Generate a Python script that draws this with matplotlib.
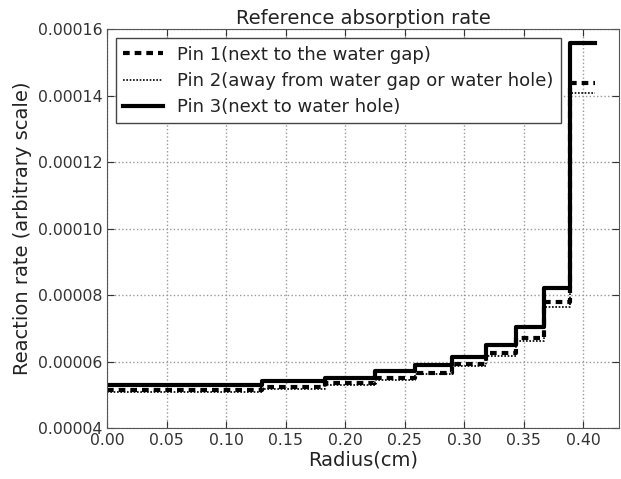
import matplotlib
matplotlib.use('Agg')
import matplotlib.pyplot as plt
from matplotlib.ticker import FormatStrFormatter, MultipleLocator

# ring edges (cm) and reaction rate per ring
radius_edges = [0.0, 0.13, 0.183, 0.225, 0.259, 0.29, 0.318, 0.343, 0.367, 0.389, 0.41]
pin1 = [5.13e-5, 5.23e-5, 5.35e-5, 5.50e-5, 5.67e-5, 5.93e-5, 6.25e-5, 6.70e-5, 7.80e-5, 1.44e-4]
pin2 = [5.08e-5, 5.18e-5, 5.30e-5, 5.45e-5, 5.62e-5, 5.87e-5, 6.18e-5, 6.62e-5, 7.65e-5, 1.41e-4]
pin3 = [5.28e-5, 5.40e-5, 5.52e-5, 5.72e-5, 5.89e-5, 6.15e-5, 6.50e-5, 7.05e-5, 8.23e-5, 1.56e-4]

labels = ['Pin 1(next to the water gap)',
          'Pin 2(away from water gap or water hole)',
          'Pin 3(next to water hole)']

fig = plt.figure(figsize=(6.21, 4.79), dpi=100)
ax = fig.add_axes([0.1723, 0.1065, 0.8247, 0.832])

ax.grid(True, color='0.6', linestyle=':', linewidth=1)
ax.set_axisbelow(True)

ax.plot(radius_edges, pin1 + pin1[-1:], drawstyle='steps-post', color='black',
        linestyle=(0, (1.6, 1.2)), linewidth=3, label=labels[0])
ax.plot(radius_edges, pin2 + pin2[-1:], drawstyle='steps-post', color='black',
        linestyle=(0, (1, 1)), linewidth=1.2, label=labels[1])
ax.plot(radius_edges, pin3 + pin3[-1:], drawstyle='steps-post', color='black',
        linestyle='-', linewidth=3, label=labels[2])

ax.set_xlim(0, 0.43)
ax.set_ylim(0.00004, 0.00016)
ax.xaxis.set_major_locator(MultipleLocator(0.05))
ax.yaxis.set_major_locator(MultipleLocator(0.00002))
ax.xaxis.set_major_formatter(FormatStrFormatter('%.2f'))
ax.yaxis.set_major_formatter(FormatStrFormatter('%.5f'))
ax.tick_params(direction='in', top=True, right=True, labelsize=11.3,
               colors='#333333', length=5)
for s in ax.spines.values():
    s.set_color('#555555')

ax.set_title('Reference absorption rate', fontsize=14, color='#222222', pad=4)
ax.set_xlabel('Radius(cm)', fontsize=14, color='#222222', labelpad=2)
ax.set_ylabel('Reaction rate (arbitrary scale)', fontsize=14, color='#222222')

leg = ax.legend(loc='upper left', fontsize=13, fancybox=False, framealpha=1,
                edgecolor='#444444', handlelength=2.2, borderaxespad=0.5,
                labelspacing=0.45)
for t in leg.get_texts():
    t.set_color('#222222')

plt.savefig('out.png', dpi=100)
